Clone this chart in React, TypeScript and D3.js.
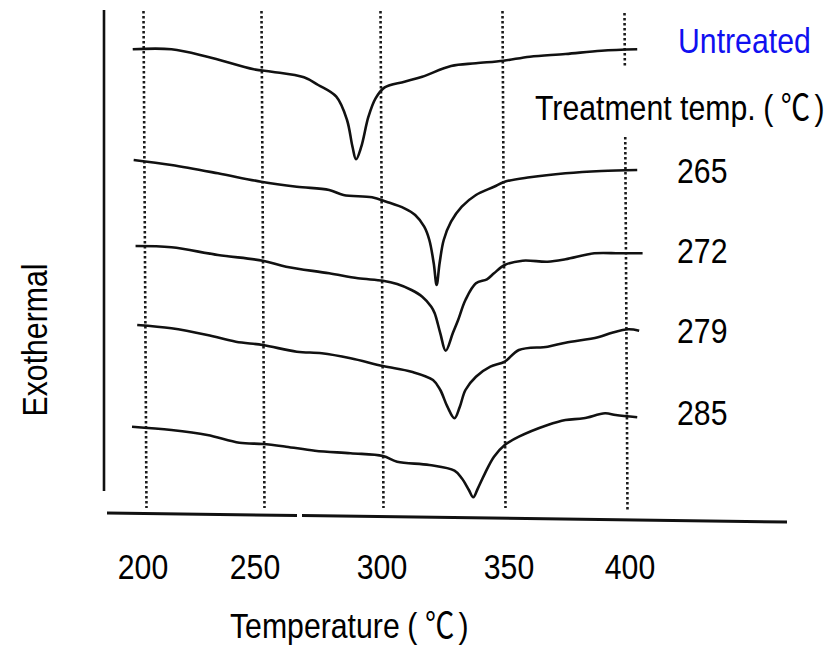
import React from 'react'
import * as d3 from 'd3'

// temperature ticks along the bottom
const tickTemps = [200, 250, 300, 350, 400]
const tickLabels = ['200', '250', '300', '350', '400']
const curveLabels = ['Untreated', '265', '272', '279', '285']

// DSC traces, temperature (°C) and signal (arbitrary units, stacked)
const untreatedT = [194.8, 211.2, 226.4, 246.1, 253.7, 267.2, 273.2, 280.8, 285.3, 287.6, 289.1, 291.3, 294.3, 297.3, 301.1, 309.2, 316.5, 328.3, 338.5, 349.8, 360.6, 375.2, 389.9, 404.6]
const untreatedS = [470.7, 470.7, 463.3, 450.7, 448.3, 442.7, 435, 423.3, 400, 373.3, 360.7, 373.3, 403.3, 421.7, 432.7, 438.3, 443.3, 454, 456.7, 459.3, 463.3, 466, 469.3, 470.7]

const t265T = [195.2, 211.2, 230.9, 249.2, 264.2, 277.8, 283.8, 295.8, 301.8, 309.2, 313.6, 317.3, 319.4, 321.2, 322.4, 323.6, 325.3, 328.3, 332.7, 338.5, 345.9, 350.3, 360.6, 375.2, 389.9, 404.6]
const t265S = [360, 355, 346.7, 338.3, 333.3, 330, 325, 322.7, 318.3, 311.7, 305, 293.3, 280, 256.7, 235, 256.7, 280, 298.3, 313.3, 325, 333.3, 338.3, 342.7, 346.7, 349, 350]

const t272T = [196, 211.2, 230.9, 249.9, 259.7, 277.8, 289.9, 300.4, 306.2, 312.1, 316.5, 320.2, 321.6, 323.9, 326.1, 329, 331.2, 334.2, 338.5, 343, 345.9, 350.3, 357.6, 367.9, 375.2, 387, 397.3, 406.8]
const t272S = [274, 272.7, 265, 259.3, 253.3, 246.7, 241.7, 239.3, 236, 230, 223.3, 213.3, 206.7, 186.7, 169.3, 186.7, 200, 220, 236.7, 240.7, 246.7, 255, 259.3, 258.3, 260.7, 266.7, 266.7, 266.7]

const t279T = [196.7, 211.2, 226.4, 238.5, 249.9, 264.2, 274.7, 286.8, 300.4, 312.1, 320.9, 323.9, 326.8, 329.7, 331.9, 334.2, 338.5, 344.4, 350.3, 356.1, 367.9, 375.2, 388.5, 394.3, 401, 405.4]
const t279S = [195, 191.7, 185, 178.3, 175, 168.3, 166.7, 161.7, 154, 148.3, 140, 130, 113.3, 101.7, 113.3, 130, 143.3, 153.3, 158.3, 170, 173.3, 177.3, 182.7, 187.3, 190.7, 189.3]

const t285T = [194.5, 211.2, 226.4, 240, 249.9, 259.7, 271.8, 286.8, 300.4, 306.2, 319.4, 329.7, 332.7, 335.6, 337.4, 339.3, 342.2, 345.9, 350.3, 356.1, 367.9, 375.2, 382.6, 391.4, 395.8, 404.6]
const t285S = [93.3, 90, 85, 77.3, 76, 73.3, 69.3, 66.7, 64, 58.3, 55, 49.3, 41.7, 30, 22.7, 31.7, 46.7, 63.3, 75, 83.3, 95, 100, 101.7, 106.7, 105, 102.7]

const curves = [
  [untreatedT, untreatedS],
  [t265T, t265S],
  [t272T, t272S],
  [t279T, t279S],
  [t285T, t285S],
]

const W = 828
const H = 648
const font = "'Liberation Sans', Arial, sans-serif"
const cjk = "'Noto Sans CJK JP', 'Noto Sans CJK SC', sans-serif"
const ink = '#111'

// narrow text: Liberation Sans squeezed to Arial Narrow proportions
const NText = ({ x, y, rotate = 0, anchor = 'start', fill = '#000', size = 36, children }: any) => (
  <text transform={`translate(${x},${y}) rotate(${rotate}) scale(0.84,1)`}
    textAnchor={anchor} fontSize={size} fill={fill}>{children}</text>
)

// "( ℃ )" with a full-width degree sign
const Unit = () => (
  <>
    <tspan dx={9}>(</tspan>
    <tspan dx={9} fontFamily={cjk} fontSize={35}>℃</tspan>
    <tspan dx={5}>)</tspan>
  </>
)

// tick labels in the scan sit a little off their guide lines
const tickNudge = [-2, -8, 0, 5, 4]

export default function App() {
  // scanned plot: grid spacing is not quite even
  const x = d3.scaleLinear().domain(tickTemps).range([145, 263, 382, 504, 626])
  const y = d3.scaleLinear().domain([0, 500]).range([520, 20])

  const line = d3.line<[number, number]>()
    .x(d => x(d[0]))
    .y(d => y(d[1]))
    .curve(d3.curveCatmullRom.alpha(0.5))

  const labelY = [53, 183, 263, 343, 425]

  return (
    <svg width={W} height={H} style={{ position: 'absolute', left: 0, top: 0, background: '#fff' }}
      fontFamily={font}>
      <rect width={W} height={H} fill="#fff" />
      {/* dotted temperature guides */}
      {tickTemps.map((t, i) => {
        const segs = t === 400 ? [[13, 68], [137, 512]] : [[11, 508]]
        return segs.map((s, j) => (
          <line key={i + '-' + j}
            x1={x(t) - 1.5 + 3 * (s[0] - 11) / 500} y1={s[0]}
            x2={x(t) - 1.5 + 3 * (s[1] - 11) / 500} y2={s[1]}
            stroke="#1a1a1a" strokeWidth={2.6} strokeDasharray="2.4 2.6" />
        ))
      })}
      {/* axes */}
      <line x1={104} y1={10} x2={104} y2={491} stroke={ink} strokeWidth={2.6} />
      <line x1={107} y1={513} x2={297} y2={515.5} stroke={ink} strokeWidth={3} />
      <line x1={302} y1={515.5} x2={787} y2={522} stroke={ink} strokeWidth={3} />
      {/* traces */}
      {curves.map((c, i) => (
        <path key={i} d={line(c[0].map((t, k) => [t, c[1][k]] as [number, number])) || ''}
          fill="none" stroke={ink} strokeWidth={2.6} strokeLinejoin="round" />
      ))}
      {/* tick labels */}
      {tickLabels.map((l, i) => (
        <NText key={l} x={x(tickTemps[i]) + tickNudge[i]} y={579} anchor="middle">{l}</NText>
      ))}
      <NText x={230} y={638}>Temperature<Unit /></NText>
      <NText x={47} y={340} rotate={-90} anchor="middle">Exothermal</NText>
      {/* curve labels */}
      <NText x={678} y={labelY[0]} fill="#1010f0">{curveLabels[0]}</NText>
      <NText x={535} y={120}>Treatment temp.<Unit /></NText>
      {curveLabels.slice(1).map((l, i) => (
        <NText key={l} x={677} y={labelY[i + 1]}>{l}</NText>
      ))}
    </svg>
  )
}
